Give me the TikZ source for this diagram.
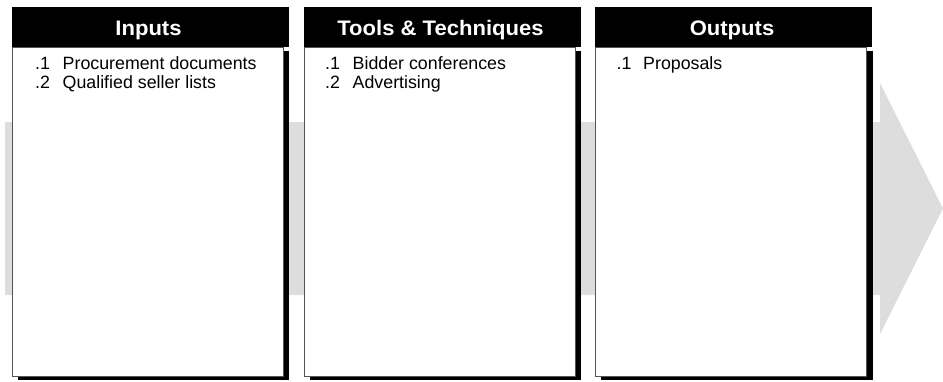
\documentclass[tikz,border=0pt]{standalone}
\usepackage{fontspec}
\setmainfont{Liberation Sans}
\newfontfamily\hdfont[FakeStretch=1.05]{Liberation Sans Bold}
\definecolor{bandgray}{HTML}{DDDDDD}
\definecolor{edgegray}{HTML}{555555}
\tikzset{
  shadowbox/.style={fill=black},
  headbox/.style={fill=black, anchor=north west, minimum width=277pt, minimum height=40pt, inner sep=0pt, outer sep=0pt},
  bodybox/.style={fill=white, draw=edgegray, line width=0.8pt, anchor=north west, minimum width=271pt, minimum height=329pt, inner sep=0pt, outer sep=0pt},
  headtext/.style={anchor=base, inner sep=0pt, text=white, font=\hdfont\fontsize{21}{25}\selectfont},
  itemtext/.style={anchor=base west, inner sep=0pt, font=\fontsize{17.8}{21}\selectfont}
}
\begin{document}
\begin{tikzpicture}[x=1pt, y=-1pt]
\useasboundingbox (0,0) rectangle (943,381);
% background flow arrow
\fill[bandgray] (5,122) -- (880,122) -- (880,83) -- (943,208.5) -- (880,334) -- (880,295) -- (5,295) -- cycle;
% box 1
\fill[shadowbox] (18,51) rectangle (289,380);
\node[bodybox] (b1) at (12,47) {};
\node[headbox] (h1) at (12,7) {};
\node[headtext] (t1) at (148.5,35) {Inputs};
\node[itemtext] (n11) at (35,69) {.1};
\node[itemtext] (i11) at (62.5,69) {Procurement documents};
\node[itemtext] (n12) at (35,88.5) {.2};
\node[itemtext] (i12) at (62.5,88.5) {Qualified seller lists};
% box 2
\fill[shadowbox] (310,51) rectangle (581,380);
\node[bodybox] (b2) at (304,47) {};
\node[headbox] (h2) at (304,7) {};
\node[headtext] (t2) at (440.5,35) {Tools \& Techniques};
\node[itemtext] (n21) at (325,69) {.1};
\node[itemtext] (i21) at (352.5,69) {Bidder conferences};
\node[itemtext] (n22) at (325,88.5) {.2};
\node[itemtext] (i22) at (352.5,88.5) {Advertising};
% box 3
\fill[shadowbox] (601,51) rectangle (873,380);
\node[bodybox] (b3) at (595,47) {};
\node[headbox] (h3) at (595,7) {};
\node[headtext] (t3) at (732,35) {Outputs};
\node[itemtext] (n31) at (616.5,69) {.1};
\node[itemtext] (i31) at (643,69) {Proposals};
\end{tikzpicture}
\end{document}
